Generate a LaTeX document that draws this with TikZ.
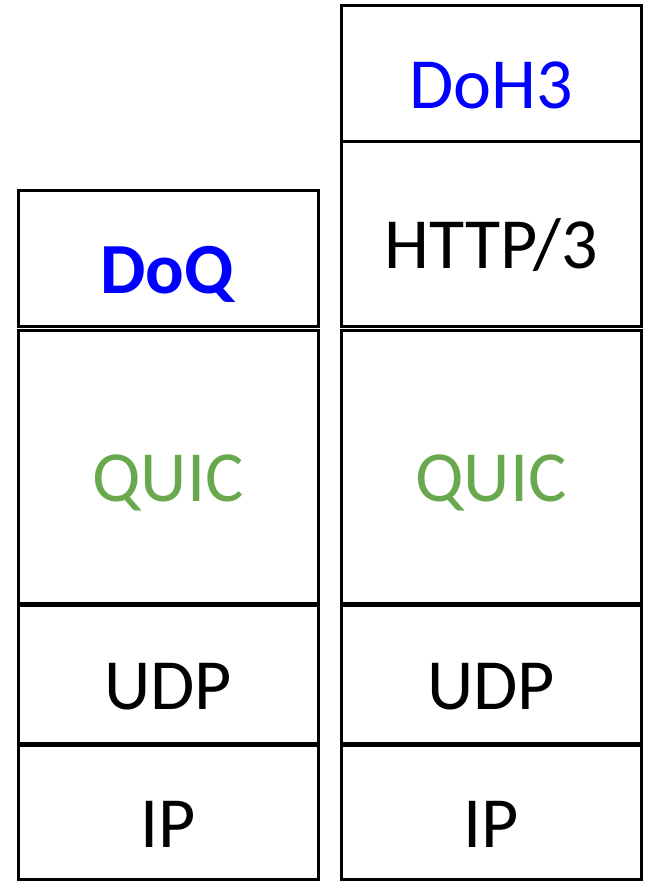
\documentclass[tikz,border=0pt]{standalone}
\usepackage{fontspec}
\setmainfont{Carlito}
\definecolor{doqblue}{RGB}{0,0,255}
\definecolor{quicgreen}{RGB}{106,168,79}

\begin{document}
\begin{tikzpicture}[x=1pt,y=-1pt]
	\tikzstyle{layer}=[rectangle,draw=black,line width=3pt,minimum width=300pt,inner sep=0pt,text height=70pt,text depth=0pt,font=\fontsize{72}{80}\selectfont]
	\useasboundingbox (0,0) rectangle (646,882);
	% DoQ stack
	\node[layer,minimum height=135pt,text=doqblue] (doq) at (168,258.5) {\textbf{DoQ}};
	\node[layer,minimum height=273pt,text=quicgreen] (quic1) at (168,466.5) {QUIC};
	\node[layer,minimum height=138pt] (udp1) at (168,674) {UDP};
	\node[layer,minimum height=134pt] (ip1) at (168,812) {IP};
	% DoH3 stack
	\node[layer,minimum height=136pt,text=doqblue] (doh3) at (491,74) {DoH3};
	\node[layer,minimum height=184pt] (http3) at (491,234) {HTTP/3};
	\node[layer,minimum height=273pt,text=quicgreen] (quic2) at (491,466.5) {QUIC};
	\node[layer,minimum height=138pt] (udp2) at (491,674) {UDP};
	\node[layer,minimum height=134pt] (ip2) at (491,812) {IP};
\end{tikzpicture}
\end{document}
